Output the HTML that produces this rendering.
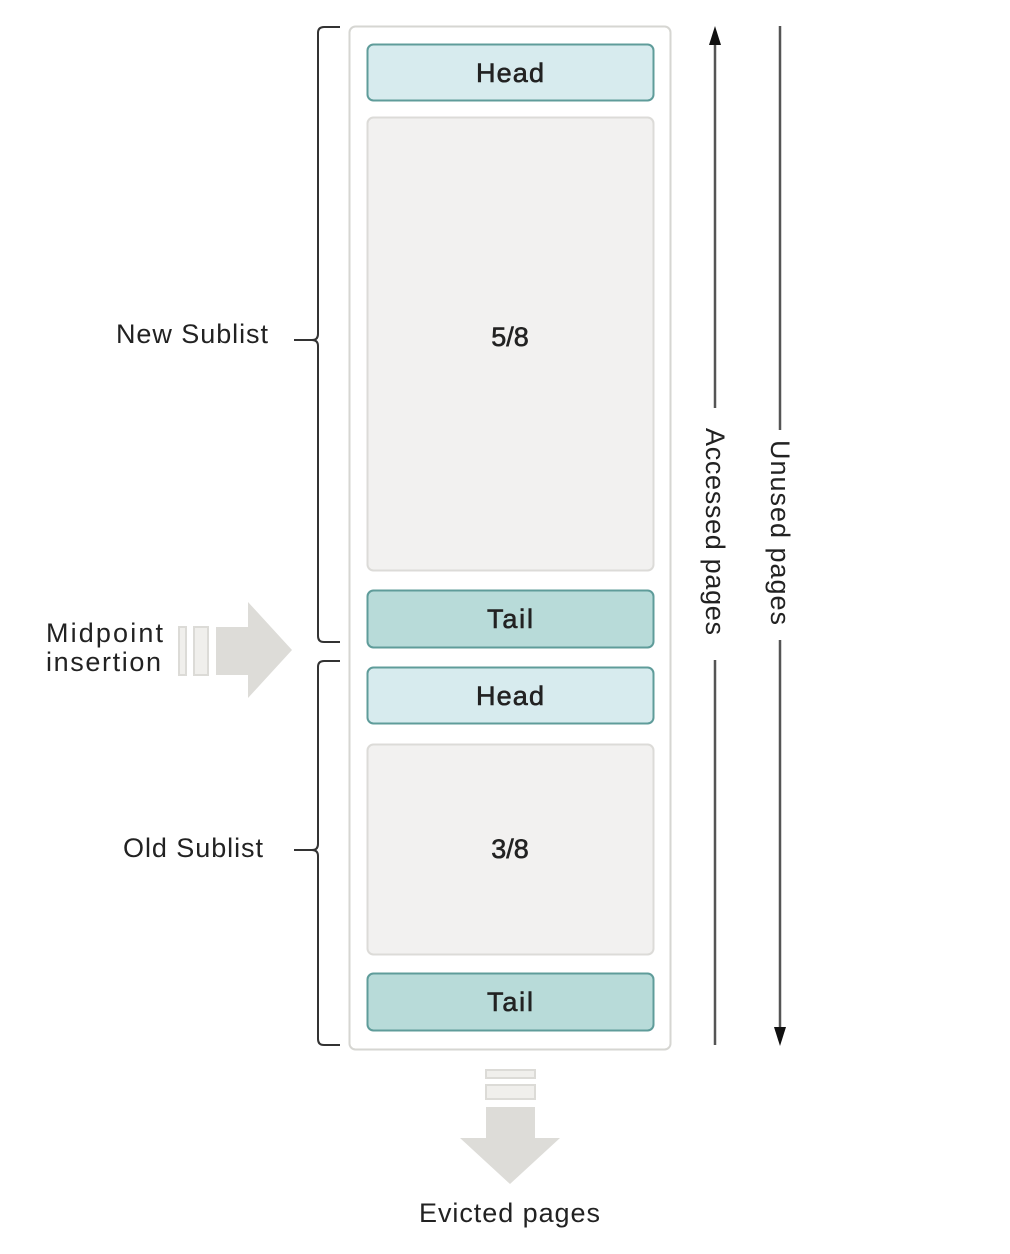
<!DOCTYPE html>
<html><head><meta charset="utf-8"><style>
html,body{margin:0;padding:0;background:#fff;}
svg{display:block;font-family:"Liberation Sans",sans-serif;}
</style></head><body>
<svg width="1010" height="1254" viewBox="0 0 1010 1254" xmlns="http://www.w3.org/2000/svg">
<rect x="349.5" y="26.5" width="321" height="1023" rx="6" fill="#fff" stroke="#d6d6d2" stroke-width="2"/>
<g stroke="#5f9c9a" stroke-width="2">
<rect x="367.5" y="44.5" width="286" height="56" rx="6" fill="#d7ebee"/>
<rect x="367.5" y="590.5" width="286" height="57" rx="6" fill="#b8dbd9"/>
<rect x="367.5" y="667.5" width="286" height="56" rx="6" fill="#d7ebee"/>
<rect x="367.5" y="973.5" width="286" height="57" rx="6" fill="#b8dbd9"/>
</g>
<rect x="367.5" y="117.5" width="286" height="453" rx="6" fill="#f2f1f0" stroke="#dcdbd8" stroke-width="2"/>
<rect x="367.5" y="744.5" width="286" height="210" rx="6" fill="#f2f1f0" stroke="#dcdbd8" stroke-width="2"/>
<g font-size="27" fill="#222" text-anchor="middle" stroke="#222" stroke-width="0.6">
<text x="510" y="82" textLength="68">Head</text>
<text x="510" y="346">5/8</text>
<text x="510" y="628" textLength="46">Tail</text>
<text x="510" y="705" textLength="68">Head</text>
<text x="510" y="858">3/8</text>
<text x="510" y="1011" textLength="46">Tail</text>
</g>
<g fill="none" stroke="#333" stroke-width="2">
<path d="M340 27 H324 Q318 27 318 33 V334 Q318 340 312 340 H294 M312 340 Q318 340 318 346 V636 Q318 642 324 642 H340"/>
<path d="M340 661 H324 Q318 661 318 667 V844 Q318 850 312 850 H294 M312 850 Q318 850 318 856 V1039 Q318 1045 324 1045 H340"/>
</g>
<g font-size="27" fill="#222">
<text x="116" y="343" textLength="152">New Sublist</text>
<text x="123" y="857" textLength="140">Old Sublist</text>
<text x="46" y="642" textLength="117">Midpoint</text>
<text x="46" y="671" textLength="115">insertion</text>
<text x="419" y="1222" textLength="181">Evicted pages</text>
</g>
<g stroke="#555" stroke-width="2.5">
<line x1="715" y1="40" x2="715" y2="408"/>
<line x1="715" y1="660" x2="715" y2="1045"/>
<line x1="780" y1="26" x2="780" y2="430"/>
<line x1="780" y1="640" x2="780" y2="1032"/>
</g>
<path d="M715 26 L709 45 L721 45 Z" fill="#111"/>
<path d="M780 1046 L774 1027 L786 1027 Z" fill="#111"/>
<g font-size="27" fill="#222">
<text transform="translate(706,428) rotate(90)" textLength="207">Accessed pages</text>
<text transform="translate(771,440) rotate(90)" textLength="185">Unused pages</text>
</g>
<g fill="#f0efec" stroke="#dcdbd7" stroke-width="2">
<rect x="179" y="627" width="7" height="48"/>
<rect x="194" y="627" width="14" height="48"/>
<rect x="486" y="1070" width="49" height="8"/>
<rect x="486" y="1085" width="49" height="14"/>
</g>
<path d="M216 627 H248 V602 L292 650 L248 698 V675 H216 Z" fill="#dddcd8"/>
<path d="M486 1107 H535 V1138 H560 L510 1184 L460 1138 H486 Z" fill="#dddcd8"/>
</svg>
</body></html>
